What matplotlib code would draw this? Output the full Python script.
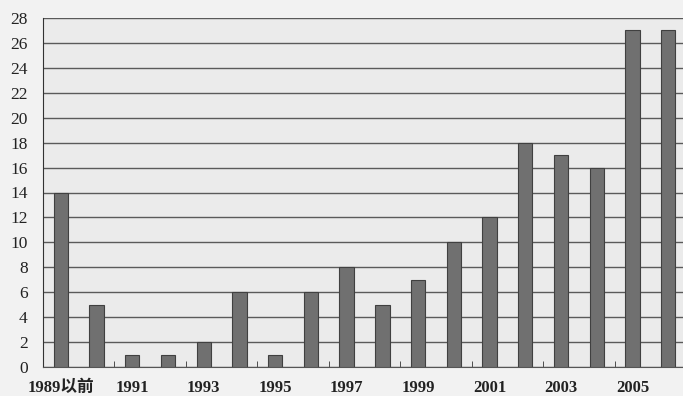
import matplotlib.pyplot as plt
import numpy as np

plt.rcParams['font.family'] = ['Liberation Serif', 'Noto Sans CJK SC']

##---------------------------input data-------------------------------##
years = ['1989以前', '1990', '1991', '1992', '1993', '1994', '1995', '1996', '1997',
         '1998', '1999', '2000', '2001', '2002', '2003', '2004', '2005', '2006']
counts = [14, 5, 1, 1, 2, 6, 1, 6, 8, 5, 7, 10, 12, 18, 17, 16, 27, 27]
y_ticks = list(range(0, 29, 2))

##----------------------------plot--------------------------##
fig = plt.figure(figsize=(6.83, 3.96), dpi=100)
fig.patch.set_facecolor('#f2f2f2')
ax = fig.add_axes([43 / 683, 1 - 367 / 396, 643 / 683, (367 - 18) / 396])
ax.set_facecolor('#ebebeb')

x = np.arange(len(years))
ax.set_axisbelow(True)
ax.yaxis.grid(True, color='#5a5a5a', linewidth=1.0)
ax.bar(x, counts, width=0.4, color='#707070', edgecolor='#404040', linewidth=0.8, zorder=3)

ax.set_xlim(-0.5, len(years) - 0.5)
ax.set_ylim(0, 28)
ax.set_yticks(y_ticks)
ax.set_yticklabels([str(v) for v in y_ticks], fontsize=12.5, color='#222222')
ax.tick_params(axis='y', length=0, pad=11)

ax.set_xticks(x[::2])
ax.set_xticklabels(years[::2], fontsize=12, fontweight='bold', color='#222222')
ax.tick_params(axis='x', length=0, pad=9)
ax.set_xticks(np.arange(1.5, len(years), 2), minor=True)
ax.tick_params(axis='x', which='minor', length=4, direction='in', color='#333333')

for side in ['top', 'right']:
    ax.spines[side].set_visible(False)
ax.spines['left'].set_color('#333333')
ax.spines['bottom'].set_color('#555555')
ax.spines['bottom'].set_linewidth(0.8)

plt.savefig('out.png', dpi=100, facecolor=fig.get_facecolor())
